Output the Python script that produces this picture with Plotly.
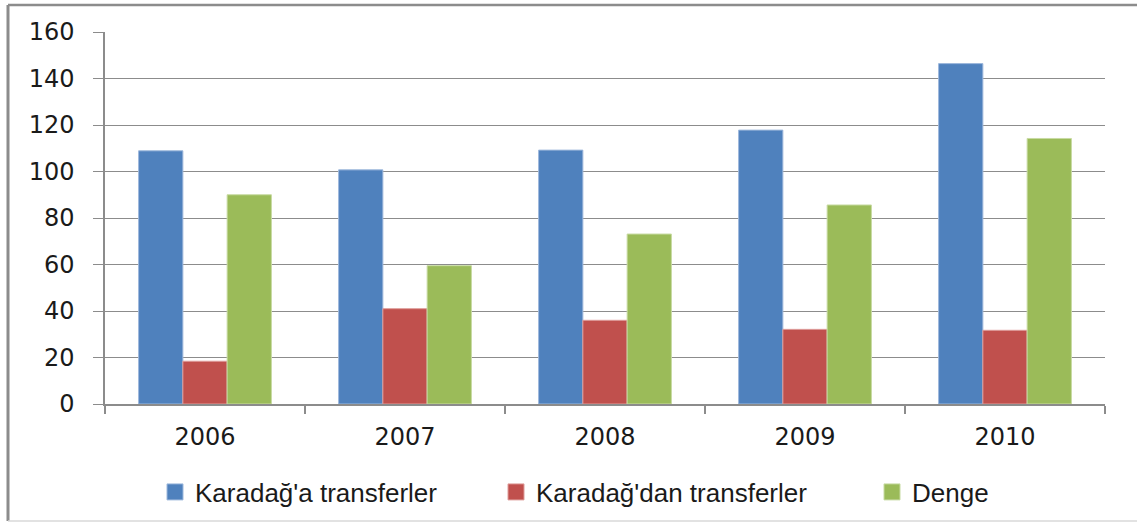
import plotly.graph_objects as go

years = ["2006", "2007", "2008", "2009", "2010"]
to_montenegro = [108.9, 100.7, 109.2, 117.8, 146.4]
from_montenegro = [18.4, 41.0, 36.0, 32.1, 31.7]
balance = [90.0, 59.5, 73.1, 85.6, 114.2]

series_names = ["Karadağ'a transferler", "Karadağ'dan transferler", "Denge"]
colors = ["#4F81BD", "#C0504D", "#9BBB59"]
edge_colors = ["#9DB8DC", "#DE9C9A", "#C8DBA3"]
legend_widths = [296, 331, 80]

fig = go.Figure()
for name, vals, c, ec in zip(series_names, [to_montenegro, from_montenegro, balance], colors, edge_colors):
    fig.add_trace(go.Bar(x=years, y=vals, name=name, showlegend=False,
                         marker=dict(color=c, line=dict(color=ec, width=1))))
# legend entries with larger square swatches
for name, c, ec, lw in zip(series_names, colors, edge_colors, legend_widths):
    fig.add_trace(go.Scatter(x=[None], y=[None], mode="markers", name=name, legendwidth=lw,
                             marker=dict(symbol="square", size=16, color=c, line=dict(color=ec, width=1)),
                             hoverinfo="skip"))

grid_c = "#8C8C8C"
fig.update_layout(
    width=1137, height=522, autosize=False,
    margin=dict(l=105, r=32, t=32, b=118, pad=0),
    plot_bgcolor="white", paper_bgcolor="white",
    barmode="group", bargap=0.336, bargroupgap=0,
    font=dict(family="DejaVu Sans", size=24, color="#1a1a1a"),
    showlegend=True,
    legend=dict(orientation="h", xref="container", yref="container",
                x=155/1137, xanchor="left", y=(522 - 492)/522, yanchor="middle",
                font=dict(family="Liberation Sans", size=26, color="#1a1a1a"),
                itemsizing="trace",
                bgcolor="rgba(0,0,0,0)", itemclick=False, itemdoubleclick=False),
    xaxis=dict(showgrid=False, showline=True, linecolor=grid_c, linewidth=1.5,
               ticks="outside", tickson="boundaries", ticklen=8, tickcolor=grid_c, tickwidth=1.5,
               ticklabelstandoff=10, fixedrange=True),
    yaxis=dict(range=[0, 160], dtick=20, showgrid=True, gridcolor=grid_c, gridwidth=1.2,
               showline=True, linecolor=grid_c, linewidth=1.5, zeroline=False,
               ticks="outside", ticklen=10, tickcolor=grid_c, tickwidth=1.2,
               ticklabelstandoff=14, fixedrange=True),
    shapes=[
        dict(type="line", xref="paper", yref="paper", x0=(8-105)/1000, x1=(1140-105)/1000,
             y0=(404-5)/372, y1=(404-5)/372, line=dict(color="#8C8C8C", width=2.5)),
        dict(type="line", xref="paper", yref="paper", x0=(8-105)/1000, x1=(8-105)/1000,
             y0=(404-5)/372, y1=(404-521)/372, line=dict(color="#8C8C8C", width=3)),
        dict(type="line", xref="paper", yref="paper", x0=(8-105)/1000, x1=(1140-105)/1000,
             y0=(404-521)/372, y1=(404-521)/372, line=dict(color="#D9D9D9", width=1.5)),
    ],
)

fig.write_html("out.html", config={"displayModeBar": False},
               post_script="document.body.style.margin='0px';")
